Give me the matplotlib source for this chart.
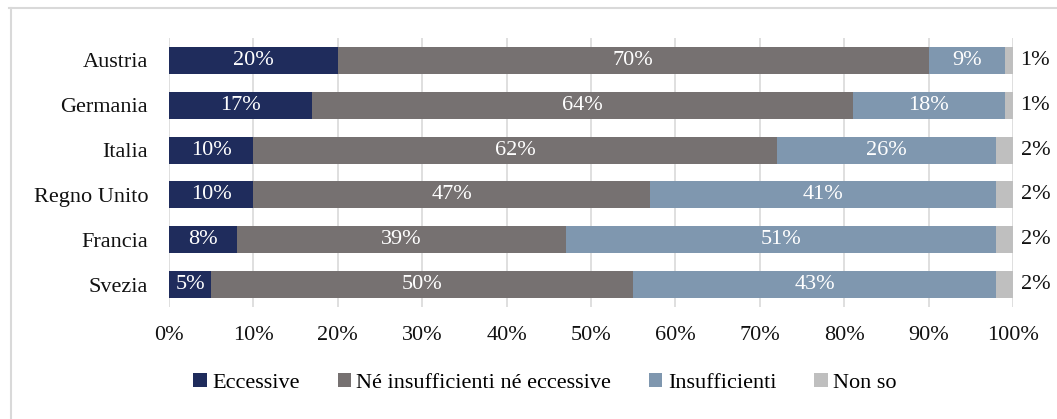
import matplotlib
matplotlib.use("Agg")
import matplotlib.pyplot as plt
from matplotlib.lines import Line2D
from matplotlib.patches import Patch
from matplotlib.font_manager import FontProperties

categories = ["Austria", "Germania", "Italia", "Regno Unito", "Francia", "Svezia"]
eccessive = [20, 17, 10, 10, 8, 5]
neutral = [70, 64, 62, 47, 39, 50]
insufficienti = [9, 18, 26, 41, 51, 43]
non_so = [1, 1, 2, 2, 2, 2]
series_names = ["Eccessive", "Né insufficienti né eccessive", "Insufficienti", "Non so"]
xticks = [0, 10, 20, 30, 40, 50, 60, 70, 80, 90, 100]

colors = ["#1F2C5C", "#767171", "#7F97AF", "#BFBFBF"]
FAM = ["Liberation Serif", "DejaVu Serif"]
plt.rcParams["font.family"] = FAM
FS = 16
fp = FontProperties(family=FAM, size=FS)

W, H = 1057, 419
fig = plt.figure(figsize=(W / 100, H / 100), dpi=100)
ax = fig.add_axes([169 / W, 1 - 307 / H, (1013 - 169) / W, (307 - 38) / H])

y = list(range(len(categories)))
series = [eccessive, neutral, insufficienti, non_so]
left = [0] * len(categories)
for s, vals in enumerate(series):
    ax.barh(y, vals, left=left, height=0.6, color=colors[s], zorder=3,
            label=series_names[s])
    for i, v in enumerate(vals):
        if s < 3:
            ax.text(left[i] + v / 2, y[i], f"{v}%", ha="center", va="center",
                    color="white", fontproperties=fp, zorder=4)
        else:
            ax.text(100.9, y[i], f"{v}%", ha="left", va="center",
                    color="#111111", fontproperties=fp, zorder=4, clip_on=False)
    left = [l + v for l, v in zip(left, vals)]

ax.set_xlim(0, 100)
ax.set_ylim(len(categories) - 0.5, -0.5)
ax.set_yticks(y)
ax.set_yticklabels(categories, fontproperties=fp, color="#111111")
ax.set_xticks(xticks)
ax.set_xticklabels([f"{t}%" for t in xticks], fontproperties=fp, color="#111111")
ax.tick_params(axis="both", length=0)
ax.tick_params(axis="y", pad=15)
ax.tick_params(axis="x", pad=14)
ax.grid(axis="x", color="#D9D9D9", linewidth=1.2, zorder=0)
for sp in ax.spines.values():
    sp.set_visible(False)

handles = [Patch(facecolor=c, edgecolor="none") for c in colors]
fig.legend(handles, series_names, loc="center", bbox_to_anchor=(545 / W, 1 - 383 / H),
           ncol=4, frameon=False, prop=fp, handlelength=0.6, handleheight=0.6,
           handletextpad=0.25, columnspacing=1.7)

# outer frame (top and left edges visible)
fig.add_artist(Line2D([9 / W, 1.0], [1 - 8.5 / H, 1 - 8.5 / H], color="#D9D9D9", linewidth=1.5))
fig.add_artist(Line2D([11 / W, 11 / W], [0, 1 - 8.5 / H], color="#D9D9D9", linewidth=1.5))

fig.savefig("out.png", dpi=100)
